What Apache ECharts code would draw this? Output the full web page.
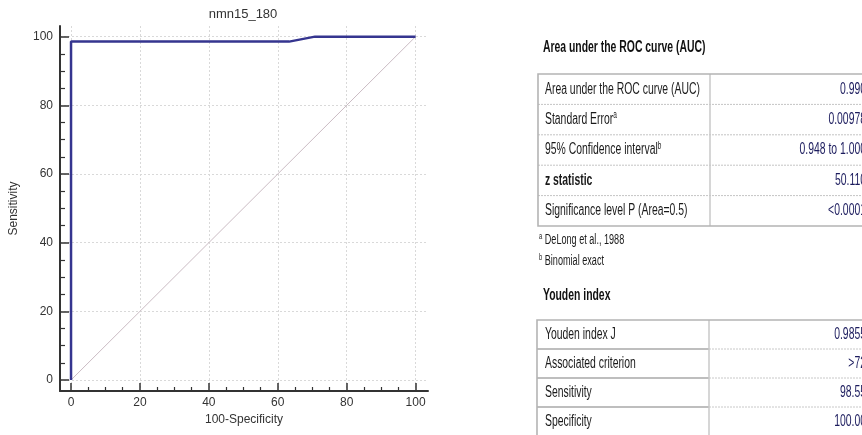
<!DOCTYPE html>
<html>
<head>
<meta charset="utf-8">
<script src="https://cdn.jsdelivr.net/npm/echarts@6.0.0/dist/echarts.min.js"></script>
<style>
html,body{margin:0;padding:0;background:#fff;}
#c{width:862px;height:435px;}
</style>
</head>
<body>
<div id="c"></div>
<script>
// ---- data ----
const chartTitle = 'nmn15_180';
const xName = '100-Specificity';
const yName = 'Sensitivity';
const xTickValues = [0, 20, 40, 60, 80, 100];
const yTickValues = [0, 20, 40, 60, 80, 100];
const minorTickValues = [5, 10, 15, 25, 30, 35, 45, 50, 55, 65, 70, 75, 85, 90, 95];
const rocX = [0, 0, 63.3, 70.8, 100];
const rocY = [0, 98.55, 98.55, 100, 100];
const refX = [0, 100];
const refY = [0, 100];

const aucTitle = 'Area under the ROC curve (AUC)';
const aucLabels = ['Area under the ROC curve (AUC)', 'Standard Error{sup|a}', '95% Confidence interval{sup|b}', 'z statistic', 'Significance level P (Area=0.5)'];
const aucValues = ['0.990', '0.00978', '0.948 to 1.000', '50.110', '<0.0001'];
const footnotes = [['a', 'DeLong et al., 1988'], ['b', 'Binomial exact']];
const youdenTitle = 'Youden index';
const youdenLabels = ['Youden index J', 'Associated criterion', 'Sensitivity', 'Specificity'];
const youdenValues = ['0.9855', '>72', '98.55', '100.00'];

// ---- chart ----
const FONT = "'Liberation Sans', Arial, sans-serif";
const SX = 0.65; // horizontal squeeze of the right-hand panel text
const chart = echarts.init(document.getElementById('c'), null, {renderer: 'canvas'});

const g = [];
function txt(x, y, text, o) {
  o = o || {};
  const size = o.size || 16;
  const col = o.color || '#1a1a1a';
  g.push({
    type: 'text', x: x, y: y, scaleX: o.sx == null ? SX : o.sx, silent: true,
    style: {
      x: 0, y: 0, text: text, align: o.align || 'left', verticalAlign: 'middle',
      font: (o.bold ? 'bold ' : '') + size + 'px ' + FONT,
      fill: col,
      rich: {
        sup: {fontSize: o.supSize || 10, fontFamily: FONT, fontWeight: 'normal', verticalAlign: 'top', fill: col, lineHeight: size + 2}
      }
    }
  });
}
function line(x1, y1, x2, y2, color, w, dash) {
  g.push({type: 'line', silent: true, shape: {x1: x1, y1: y1, x2: x2, y2: y2},
    style: {stroke: color, lineWidth: w, lineDash: dash || null}});
}

// title of plot
txt(243, 14, chartTitle, {sx: 1, size: 13, align: 'center', color: '#333'});

// AUC table
txt(543, 48, aucTitle, {bold: true, size: 16, color: '#111'});
(function () {
  const left = 538, top = 74, div = 710, rh = 30.4, right = 900;
  const bottom = top + rh * aucLabels.length;
  for (let i = 1; i < aucLabels.length; i++) {
    line(left, top + rh * i, right, top + rh * i, '#c4c4c4', 1, [2, 1]);
  }
  line(div, top, div, bottom, '#c8c8c8', 1.5);
  g.push({type: 'rect', silent: true, shape: {x: left, y: top, width: right - left, height: bottom - top},
    style: {fill: null, stroke: '#b4b4b4', lineWidth: 1.6}});
  aucLabels.forEach(function (l, i) {
    const cy = top + rh * (i + 0.5);
    txt(545, cy, l, {bold: i === 3});
    txt(866, cy, aucValues[i], {align: 'right', color: '#1c1c5e'});
  });
  txt(539, 240, '{sup|' + footnotes[0][0] + '} ' + footnotes[0][1], {size: 14, supSize: 9});
  txt(539, 261, '{sup|' + footnotes[1][0] + '} ' + footnotes[1][1], {size: 14, supSize: 9});
})();

// Youden table
txt(543, 296, youdenTitle, {bold: true, size: 16, color: '#111'});
(function () {
  const left = 537, top = 320, div = 709, rh = 29, right = 900;
  const bottom = top + rh * youdenLabels.length;
  for (let i = 1; i < youdenLabels.length; i++) {
    line(left, top + rh * i, div, top + rh * i, '#a8a8a8', 1.6);
    line(div, top + rh * i, right, top + rh * i, '#c8c8c8', 1, [2, 1]);
  }
  line(div, top, div, bottom, '#c8c8c8', 1.5);
  g.push({type: 'rect', silent: true, shape: {x: left, y: top, width: right - left, height: bottom - top},
    style: {fill: null, stroke: '#b4b4b4', lineWidth: 1.6}});
  youdenLabels.forEach(function (l, i) {
    const cy = top + rh * (i + 0.5);
    txt(545, cy, l, {});
    txt(866, cy, youdenValues[i], {align: 'right', color: '#1c1c5e'});
  });
})();

const axisText = {color: '#333', fontSize: 12, fontFamily: FONT};
const X0 = -3.2, X1 = 103.6, Y0 = -3.2, Y1 = 103.1;

const option = {
  animation: false,
  backgroundColor: '#fff',
  grid: {left: 60, right: 434, top: 26, bottom: 44, containLabel: false},
  xAxis: [{
    type: 'value', min: X0, max: X1, position: 'bottom',
    name: xName, nameLocation: 'middle', nameGap: 23, nameTextStyle: axisText,
    axisLine: {show: true, onZero: false, lineStyle: {color: '#333', width: 2}},
    axisTick: {show: true, inside: true, length: 8, customValues: xTickValues, lineStyle: {color: '#333', width: 1.5}},
    axisLabel: {show: true, customValues: xTickValues, margin: 6, ...axisText},
    splitLine: {show: true, lineStyle: {color: '#d9d9d9', type: [2, 2], width: 1}}
  }, {
    type: 'value', min: X0, max: X1, position: 'bottom',
    axisLine: {show: false, onZero: false},
    axisTick: {show: true, inside: true, length: 4, customValues: minorTickValues, lineStyle: {color: '#333', width: 1.2}},
    axisLabel: {show: false},
    splitLine: {show: false}
  }],
  yAxis: [{
    type: 'value', min: Y0, max: Y1, position: 'left',
    name: yName, nameLocation: 'middle', nameGap: 40, nameTextStyle: axisText,
    axisLine: {show: true, onZero: false, lineStyle: {color: '#333', width: 2}},
    axisTick: {show: true, inside: true, length: 9, customValues: yTickValues, lineStyle: {color: '#333', width: 1.5}},
    axisLabel: {show: true, customValues: yTickValues, margin: 7, ...axisText},
    splitLine: {show: true, lineStyle: {color: '#d9d9d9', type: [2, 2], width: 1}}
  }, {
    type: 'value', min: Y0, max: Y1, position: 'left',
    axisLine: {show: false, onZero: false},
    axisTick: {show: true, inside: true, length: 5, customValues: minorTickValues, lineStyle: {color: '#333', width: 1.2}},
    axisLabel: {show: false},
    splitLine: {show: false}
  }],
  series: [{
    type: 'line', name: 'reference', xAxisIndex: 0, yAxisIndex: 0,
    data: refX.map(function (x, i) { return [x, refY[i]]; }),
    showSymbol: false, silent: true,
    lineStyle: {color: '#cbbcc4', width: 1}
  }, {
    type: 'line', name: 'ROC', xAxisIndex: 0, yAxisIndex: 0,
    data: rocX.map(function (x, i) { return [x, rocY[i]]; }),
    showSymbol: false, silent: true,
    lineStyle: {color: '#35358f', width: 2.5}
  }],
  graphic: g
};
chart.setOption(option);
</script>
</body>
</html>
